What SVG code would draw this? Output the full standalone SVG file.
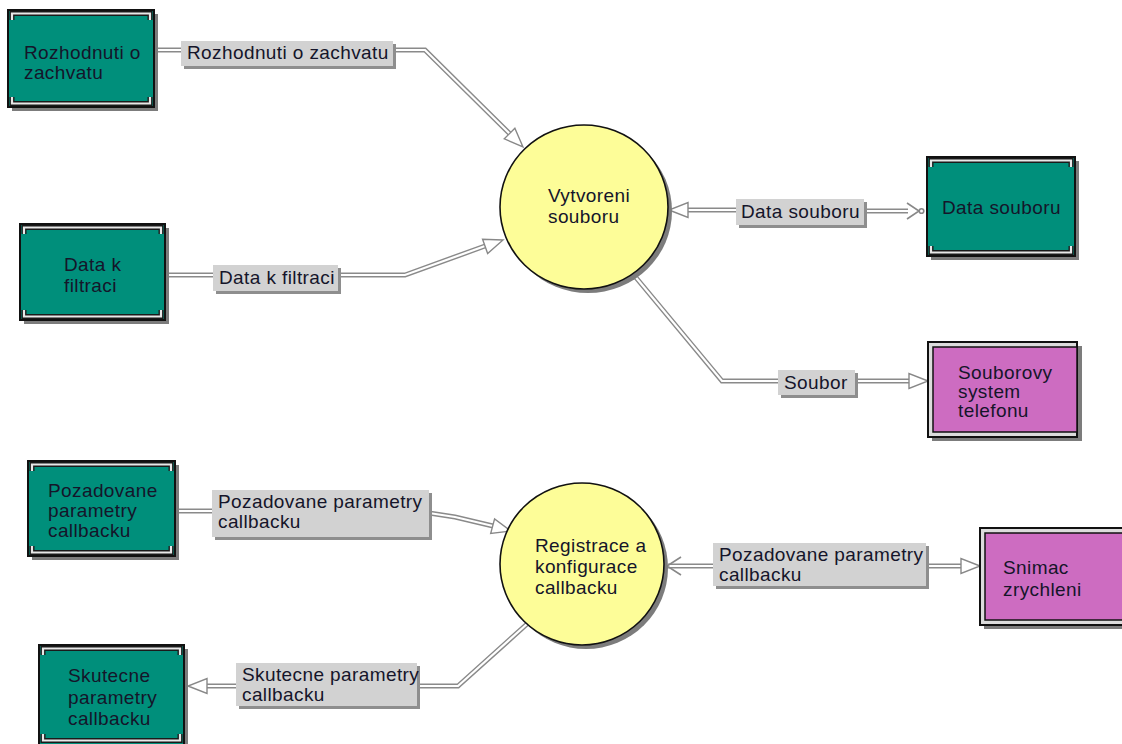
<svg xmlns="http://www.w3.org/2000/svg" xmlns:xlink="http://www.w3.org/1999/xlink" width="1122" height="744" viewBox="0 0 1122 744">
  <style>
    text { font-family: "Liberation Sans", Arial, sans-serif; font-size: 19px; letter-spacing: 0.4px; fill: #15152a; }
    .shadow { fill: #7c7c7c; }
    .ent { fill: #008f7b; stroke: #111; stroke-width: 2; }
    .dev-outer { fill: #dcdcdc; stroke: #111; stroke-width: 2; }
    .dev-inner { fill: #cd6cc1; stroke: #111; stroke-width: 1.5; }
    .brk-dark { fill: none; stroke: #1a1a1a; stroke-width: 5; }
    .brk-light { fill: none; stroke: #e8e8e8; stroke-width: 2.2; }
    .proc { fill: #fdfd98; stroke: #111; stroke-width: 1.6; }
    .lbl { fill: #d2d2d2; }
    .lbl-sh { fill: #8e8e8e; }
    .pipe-o { fill: none; stroke: #8a8a8a; stroke-width: 5; stroke-linejoin: miter; }
    .pipe-i { fill: none; stroke: #ffffff; stroke-width: 2.2; stroke-linejoin: miter; }
    .head { fill: #ffffff; stroke: #888; stroke-width: 1.4; stroke-linejoin: miter; }
    .open { fill: none; stroke: #888; stroke-width: 1.6; }
  </style>
  <defs>
    <!-- hollow arrow head, tip at origin, pointing along +x -->
    <path id="tri" class="head" d="M0,0 L-19,-7.5 L-19,7.5 Z"/>
  </defs>

  <rect width="1122" height="744" fill="#ffffff"/>

  <!-- data flows (double-line pipes) -->
  <g id="connectors">
    <path class="pipe-o" d="M155,50 H181 M393,50 H425 L510,134"/>
    <path class="pipe-i" d="M155,50 H181 M393,50 H425 L510,134"/>
    <use xlink:href="#tri" transform="translate(523,147) rotate(45)"/>

    <path class="pipe-o" d="M165,275 H213 M338,275 H405 L485,246"/>
    <path class="pipe-i" d="M165,275 H213 M338,275 H405 L485,246"/>
    <use xlink:href="#tri" transform="translate(503,240) rotate(-19.7)"/>

    <path class="pipe-o" d="M687,210 H736 M864,211 H908"/>
    <path class="pipe-i" d="M687,210 H736 M864,211 H908"/>
    <use xlink:href="#tri" transform="translate(669,210) rotate(180)"/>
    <path class="open" d="M907,203 L919,211 L907,219"/>
    <circle class="open" cx="921.5" cy="211" r="2.3"/>

    <path class="pipe-o" d="M633,274 L722,381 H778 M855,381 H909"/>
    <path class="pipe-i" d="M633,274 L722,381 H778 M855,381 H909"/>
    <use xlink:href="#tri" transform="translate(928,381) rotate(0)"/>

    <path class="pipe-o" d="M177,511 H212 M429,513 L455,517 L493,526"/>
    <path class="pipe-i" d="M177,511 H212 M429,513 L455,517 L493,526"/>
    <use xlink:href="#tri" transform="translate(511,531) rotate(15)"/>

    <path class="pipe-o" d="M668,566 H713 M926,566 H961"/>
    <path class="pipe-i" d="M668,566 H713 M926,566 H961"/>
    <path class="open" d="M681,557 L667,566 L681,575"/>
    <use xlink:href="#tri" transform="translate(980,566) rotate(0)"/>

    <path class="pipe-o" d="M527,624 L458,686 H417 M236,686 H207"/>
    <path class="pipe-i" d="M527,624 L458,686 H417 M236,686 H207"/>
    <use xlink:href="#tri" transform="translate(188,686) rotate(180)"/>
  </g>

  <!-- flow labels -->
  <g id="labels">
    <rect class="lbl-sh" x="184" y="44" width="212" height="25"/>
    <rect class="lbl" x="181" y="41" width="212" height="25"/>
    <text x="187" y="59">Rozhodnuti o zachvatu</text>

    <rect class="lbl-sh" x="216" y="268" width="125" height="26"/>
    <rect class="lbl" x="213" y="265" width="125" height="26"/>
    <text x="219" y="284">Data k filtraci</text>

    <rect class="lbl-sh" x="739" y="202" width="128" height="26"/>
    <rect class="lbl" x="736" y="199" width="128" height="26"/>
    <text x="741" y="218">Data souboru</text>

    <rect class="lbl-sh" x="781" y="373" width="77" height="25"/>
    <rect class="lbl" x="778" y="370" width="77" height="25"/>
    <text x="784" y="389">Soubor</text>

    <rect class="lbl-sh" x="215" y="493" width="217" height="47"/>
    <rect class="lbl" x="212" y="490" width="217" height="47"/>
    <text x="218" y="508">Pozadovane parametry</text>
    <text x="218" y="528">callbacku</text>

    <rect class="lbl-sh" x="716" y="546" width="213" height="43"/>
    <rect class="lbl" x="713" y="543" width="213" height="43"/>
    <text x="719" y="561">Pozadovane parametry</text>
    <text x="719" y="581">callbacku</text>

    <rect class="lbl-sh" x="239" y="666" width="181" height="43"/>
    <rect class="lbl" x="236" y="663" width="181" height="43"/>
    <text x="242" y="681">Skutecne parametry</text>
    <text x="242" y="701">callbacku</text>
  </g>

  <!-- processes -->
  <g id="proc-vytvoreni">
    <ellipse class="shadow" cx="588" cy="211" rx="84" ry="82"/>
    <ellipse class="proc" cx="584" cy="207" rx="84" ry="82"/>
    <text x="548" y="202">Vytvoreni</text>
    <text x="548" y="223">souboru</text>
  </g>

  <g id="proc-registrace">
    <ellipse class="shadow" cx="586" cy="568" rx="82" ry="81"/>
    <ellipse class="proc" cx="582" cy="564" rx="82" ry="81"/>
    <text x="535" y="552">Registrace a</text>
    <text x="535" y="573">konfigurace</text>
    <text x="535" y="594">callbacku</text>
  </g>

  <!-- external entities -->
  <g id="ent-rozhodnuti">
    <rect class="shadow" x="12" y="14" width="146" height="97"/>
    <rect class="ent" x="8" y="10" width="146" height="97"/>
    <path class="brk-dark" d="M12,20 V13.5 H150 V20"/>
    <path class="brk-light" d="M12,20 V13.5 H150 V20"/>
    <path class="brk-dark" d="M12,97 V103.5 H150 V97"/>
    <path class="brk-light" d="M12,97 V103.5 H150 V97"/>
    <text x="24" y="59">Rozhodnuti o</text>
    <text x="24" y="79">zachvatu</text>
  </g>

  <g id="ent-data-filtraci">
    <rect class="shadow" x="24" y="228" width="145" height="96"/>
    <rect class="ent" x="20" y="224" width="145" height="96"/>
    <path class="brk-dark" d="M24,234 V227.5 H161 V234"/>
    <path class="brk-light" d="M24,234 V227.5 H161 V234"/>
    <path class="brk-dark" d="M24,310 V316.5 H161 V310"/>
    <path class="brk-light" d="M24,310 V316.5 H161 V310"/>
    <text x="64" y="271">Data k</text>
    <text x="64" y="292">filtraci</text>
  </g>

  <g id="ent-data-souboru">
    <rect class="shadow" x="931" y="161" width="148" height="99"/>
    <rect class="ent" x="927" y="157" width="148" height="99"/>
    <path class="brk-dark" d="M931,167 V160.5 H1071 V167"/>
    <path class="brk-light" d="M931,167 V160.5 H1071 V167"/>
    <path class="brk-dark" d="M931,246 V252.5 H1071 V246"/>
    <path class="brk-light" d="M931,246 V252.5 H1071 V246"/>
    <text x="942" y="214">Data souboru</text>
  </g>

  <g id="dev-souborovy">
    <rect class="shadow" x="932" y="346" width="150" height="95"/>
    <rect class="dev-outer" x="928" y="342" width="149" height="95"/>
    <rect class="dev-inner" x="933" y="347" width="144" height="85"/>
    <text x="958" y="379">Souborovy</text>
    <text x="958" y="398">system</text>
    <text x="958" y="417">telefonu</text>
  </g>

  <g id="ent-pozadovane">
    <rect class="shadow" x="32" y="465" width="147" height="95"/>
    <rect class="ent" x="28" y="461" width="147" height="95"/>
    <path class="brk-dark" d="M32,471 V464.5 H171 V471"/>
    <path class="brk-light" d="M32,471 V464.5 H171 V471"/>
    <path class="brk-dark" d="M32,546 V552.5 H171 V546"/>
    <path class="brk-light" d="M32,546 V552.5 H171 V546"/>
    <text x="48" y="497">Pozadovane</text>
    <text x="48" y="517">parametry</text>
    <text x="48" y="537">callbacku</text>
  </g>

  <g id="dev-snimac">
    <rect class="shadow" x="984" y="532" width="140" height="97"/>
    <rect class="dev-outer" x="980" y="528" width="146" height="97"/>
    <rect class="dev-inner" x="985" y="533" width="141" height="87"/>
    <text x="1003" y="574">Snimac</text>
    <text x="1003" y="596">zrychleni</text>
  </g>

  <g id="ent-skutecne">
    <rect class="shadow" x="43" y="649" width="145" height="100"/>
    <rect class="ent" x="39" y="645" width="145" height="100"/>
    <path class="brk-dark" d="M43,655 V648.5 H180 V655"/>
    <path class="brk-light" d="M43,655 V648.5 H180 V655"/>
    <path class="brk-dark" d="M43,734 V740.5 H180 V734"/>
    <path class="brk-light" d="M43,734 V740.5 H180 V734"/>
    <text x="68" y="682">Skutecne</text>
    <text x="68" y="704">parametry</text>
    <text x="68" y="725">callbacku</text>
  </g>
</svg>
